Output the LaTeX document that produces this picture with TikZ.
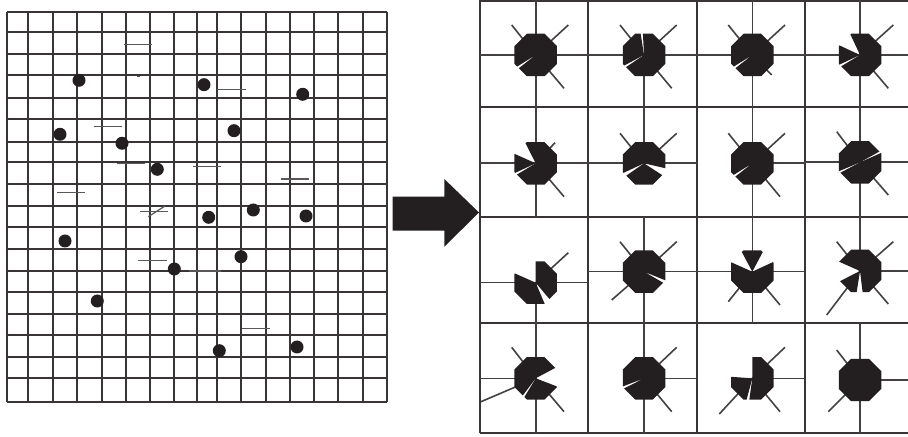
\documentclass[tikz,border=0pt]{standalone}
\usepackage{tikz}
\definecolor{ink}{HTML}{231F20}
\tikzset{
  gridline/.style={draw=ink!90, line width=0.95pt},
  arm/.style={draw=ink!85, line width=0.8pt},
  dashmark/.style={draw=ink!75, line width=0.6pt},
  dot/.style={fill=ink},
  blob/.style={fill=ink},
}
\newcommand\octpiece[4]{%
  \begin{scope}
    \clip (#1,#2) -- +({-(#3)}:60) -- +({-(#3)-((#4)-(#3))/5}:60)
      -- +({-(#3)-2*((#4)-(#3))/5}:60) -- +({-(#3)-3*((#4)-(#3))/5}:60)
      -- +({-(#3)-4*((#4)-(#3))/5}:60) -- +({-(#4)}:60) -- cycle;
    \fill[blob] (#1,#2) +(22.5:23) -- +(67.5:23) -- +(112.5:23) -- +(157.5:23)
      -- +(202.5:23) -- +(247.5:23) -- +(292.5:23) -- +(337.5:23) -- cycle;
  \end{scope}}
\begin{document}
\begin{tikzpicture}[x=0.5pt,y=-0.5pt]
\useasboundingbox (0,0) rectangle (908,437);
% ---------------- left grid ----------------
\foreach \gx in {7.3,28.3,52.7,77.3,101.7,125.7,150,174,197,217.3,241,265.7,290,314,338.3,362.7,387.3}
  \draw[gridline] (\gx,11.7) -- (\gx,402.3);
\foreach \gy in {11.7,31.7,54.3,75,97.7,119,141.7,162.3,184.3,206,227.3,249,270.7,291.7,314,335,356.7,378.3,402.3}
  \draw[gridline] (7.3,\gy) -- (387.3,\gy);
% short marks
\draw[dashmark] (124,44.3) -- (151.7,44.3);
\draw[dashmark] (137,76.7) -- (140,76.7);
\draw[dashmark] (94,126.7) -- (121.7,126.7);
\draw[dashmark] (117.3,163.3) -- (145,163.3);
\draw[dashmark] (57.3,192.7) -- (85,192.7);
\draw[dashmark] (192.7,166.7) -- (220.7,166.7);
\draw[dashmark] (217.3,89.3) -- (245.7,89.3);
\draw[dashmark] (280.7,179) -- (309,179);
\draw[dashmark] (140,211.7) -- (168.3,211.7);
\draw[dashmark] (148.3,216.7) -- (165,206);
\draw[dashmark] (138.3,260.7) -- (166.7,260.7);
\draw[dashmark] (189.3,271) -- (220.7,271);
\draw[dashmark] (241.7,328.7) -- (270,328.7);
% dots
\foreach \dx/\dy in {79/80.3,204/84.7,302.7/94.3,60/134.3,122/143.3,234/130.7,157.3/169.3,208.7/217.3,253.3/210,306/216,65/241,241/256.7,174.3/269,97.3/301,219.3/350.7,297/347}
  \fill[dot] (\dx,\dy) circle[radius=6.5];
% ---------------- arrow ----------------
\fill[ink] (392.7,196.7) -- (444.3,196.7) -- (444.3,179) -- (479,212.5)
  -- (444.3,246.7) -- (444.3,230.7) -- (392.7,230.7) -- cycle;
% ---------------- right grid ----------------
\draw[gridline] (480,0.6) -- (908,0.6);
\foreach \gy in {106.7,216.7,322.7,432.7}
  \draw[gridline] (480,\gy) -- (908,\gy);
\foreach \gx in {480,588.3,696.7,805}
  \draw[gridline] (\gx,0) -- (\gx,432.7);
% row 1
\draw[arm] (535.7,0) -- (535.7,106.7) (480,55) -- (588.3,55);
\draw[arm] (535.7,55) -- (511.7,25) (535.7,55) -- (568.3,25) (535.7,55) -- (564,88.3);
\draw[arm] (644,55) -- (644,106.7) (588.3,55) -- (696.7,55);
\draw[arm] (644,55) -- (620,25) (644,55) -- (676.7,25) (644,55) -- (671.7,88.3);
\draw[arm] (752.3,0) -- (752.3,106.7) (696.7,55) -- (805,55);
\draw[arm] (752.3,55) -- (728.3,25) (752.3,55) -- (785,25) (752.3,55) -- (771.7,75);
\draw[arm] (860,0) -- (860,106.7) (805,55) -- (908,55);
\draw[arm] (860,55) -- (893.3,25) (860,55) -- (888.3,88.3);
% row 2
\draw[arm] (535.7,106.7) -- (535.7,216.7) (480,163.3) -- (588.3,163.3);
\draw[arm] (535.7,163.3) -- (555,142.7) (535.7,163.3) -- (564,196.7);
\draw[arm] (644,106.7) -- (644,163.3) (588.3,163.3) -- (696.7,163.3);
\draw[arm] (644,163.3) -- (620,133.3) (644,163.3) -- (676.7,133.3);
\draw[arm] (752.3,106.7) -- (752.3,216.7) (752.3,163.3) -- (805,163.3);
\draw[arm] (752.3,163.3) -- (728.3,133.3) (752.3,163.3) -- (785,133.3) (752.3,163.3) -- (780,196.7);
\draw[arm] (860,106.7) -- (860,216.7) (805,162.3) -- (908,162.3);
\draw[arm] (860,162.3) -- (836.7,131.7) (860,162.3) -- (888.3,195);
% row 3
\draw[arm] (535.7,282.7) -- (535.7,322.7) (480,282.7) -- (588.3,282.7);
\draw[arm] (535.7,282.7) -- (568.3,252.7);
\draw[arm] (644,216.7) -- (644,322.7) (588.3,271.7) -- (696.7,271.7);
\draw[arm] (644,271.7) -- (620,241.7) (644,271.7) -- (676.7,241.7) (644,271.7) -- (611.7,300);
\draw[arm] (752.3,216.7) -- (752.3,322.7) (696.7,271.7) -- (805,271.7);
\draw[arm] (752.3,271.7) -- (728.3,301.7) (752.3,271.7) -- (780,305);
\draw[arm] (860,216.7) -- (860,271) (860,271) -- (908,271);
\draw[arm] (860,271) -- (836.7,241.7) (860,271) -- (893.3,241.7) (860,271) -- (888.3,304) (860,271) -- (826.7,315);
% row 4
\draw[arm] (535.7,322.7) -- (535.7,432.7) (480,378.3) -- (535.7,378.3);
\draw[arm] (535.7,378.3) -- (511.7,347.3) (535.7,378.3) -- (564,411.7) (535.7,378.3) -- (481,401.7);
\draw[arm] (644,322.7) -- (644,432.7) (644,378.3) -- (696.7,378.3);
\draw[arm] (644,378.3) -- (676.7,347.3) (644,378.3) -- (671.7,411.7);
\draw[arm] (752.3,378.3) -- (805,378.3);
\draw[arm] (752.3,378.3) -- (785,347.3) (752.3,378.3) -- (780,411.7) (752.3,378.3) -- (719.3,414);
\draw[arm] (860,322.7) -- (860,432.7) (860,380) -- (908,380);
\draw[arm] (860,380) -- (836.7,350) (860,380) -- (828.3,411.7);
% octagon pieces
\octpiece{535.7}{55}{218}{572}
\octpiece{644}{55}{99}{208}
\octpiece{644}{55}{214}{453}
\octpiece{752.3}{55}{218}{572}
\octpiece{860}{55}{155}{205}
\octpiece{860}{55}{211}{475}
\octpiece{535.7}{163.3}{156}{205}
\octpiece{535.7}{163.3}{211}{477}
\octpiece{644}{163.3}{215}{327}
\octpiece{644}{163.3}{347}{565}
\octpiece{752.3}{163.3}{218}{572}
\octpiece{860}{162.3}{29}{203}
\octpiece{860}{162.3}{208}{384}
\octpiece{535.7}{282.7}{156}{293}
\octpiece{535.7}{282.7}{310}{450}
\octpiece{644}{271.7}{338}{690}
\octpiece{752.3}{271.7}{62}{118}
\octpiece{752.3}{271.7}{156}{385}
\octpiece{860}{271}{207}{261}
\octpiece{860}{271}{277}{516}
\octpiece{535.7}{378.3}{28}{233}
\octpiece{535.7}{378.3}{239}{339}
\octpiece{644}{378.3}{207}{561}
\octpiece{752.3}{378.3}{176}{255}
\octpiece{752.3}{378.3}{262}{450}
\octpiece{860}{380}{0}{360}
\end{tikzpicture}
\end{document}
